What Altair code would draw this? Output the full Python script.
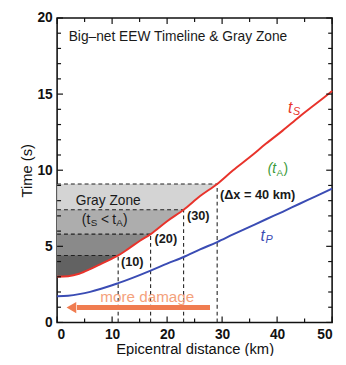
import altair as alt
import pandas as pd

# ---- data ----
dist = [0, 2, 4, 6, 8, 10, 11.1, 13, 15, 17, 20, 23, 26, 29.1, 32, 35, 38, 41, 44, 47, 50]
t_s = [3.0, 3.04, 3.2, 3.5, 3.85, 4.2, 4.4, 4.85, 5.35, 5.8, 6.65, 7.4, 8.3, 9.1,
       10.0, 10.85, 11.75, 12.6, 13.5, 14.35, 15.2]
t_p = [1.72, 1.76, 1.86, 2.01, 2.21, 2.44, 2.58, 2.83, 3.11, 3.4, 3.86, 4.3, 4.8, 5.28,
       5.78, 6.28, 6.78, 7.27, 7.78, 8.28, 8.79]

gray_levels = [9.1, 7.4, 5.8, 4.4]
gray_x = [29.1, 23.0, 17.0, 11.1]
gray_colors = ["#d4d4d4", "#adadad", "#8a8a8a", "#626262"]
mark_labels = ["(Δx = 40 km)", "(30)", "(20)", "(10)"]
mark_lab_x = [29.6, 23.6, 17.7, 11.6]
mark_lab_y = [8.35, 7.0, 5.47, 3.95]

x_ticks = [0, 10, 20, 30, 40, 50]
x_minor = [5, 15, 25, 35, 45]
y_ticks = [0, 5, 10, 15, 20]
y_minor = [1, 2, 3, 4, 6, 7, 8, 9, 11, 12, 13, 14, 16, 17, 18, 19]

arrow_from = 27.8
arrow_to = 3.6
arrow_tip = 2.6
arrow_y = 0.98

W, H = 280, 310
FONT = "Liberation Sans"

XS = alt.Scale(domain=[0, 50], nice=False)
YS = alt.Scale(domain=[0, 20], nice=False)
AX = alt.Axis(values=x_ticks, ticks=False, domain=False, grid=False, labelFont=FONT,
              labelFontSize=14, labelFontWeight="bold", labelColor="#111", labelPadding=5,
              title="Epicentral distance (km)", titleFont=FONT, titleFontSize=15,
              titleFontWeight="normal", titleColor="#111", titlePadding=1)
AY = alt.Axis(values=y_ticks, ticks=False, domain=False, grid=False, labelFont=FONT,
              labelFontSize=14, labelFontWeight="bold", labelColor="#111", labelPadding=5,
              title="Time (s)", titleFont=FONT, titleFontSize=15,
              titleFontWeight="normal", titleColor="#111", titlePadding=3)


def X(f):
    return alt.X(f, type="quantitative", scale=XS, axis=AX)


def Y(f):
    return alt.Y(f, type="quantitative", scale=YS, axis=AY)


curves = pd.DataFrame({"x": dist, "ts": t_s, "tp": t_p})

layers = []

# gray zone bands (lightest first, darker on top)
for lev, xl, col in zip(gray_levels, gray_x, gray_colors):
    sub = curves[curves["x"] <= xl + 1e-9].copy()
    sub["lev"] = lev
    layers.append(
        alt.Chart(sub).mark_area(color=col, opacity=1, interpolate="monotone")
        .encode(x=X("x"), y=Y("ts"), y2="lev")
    )

# dashed guide lines
guides = pd.DataFrame({"x": gray_x, "lev": gray_levels, "zero": [0] * len(gray_x)})
layers.append(
    alt.Chart(guides).mark_rule(color="#222", strokeDash=[4, 3], strokeWidth=1.1)
    .encode(x=X("zero"), x2="x", y=Y("lev"))
)
layers.append(
    alt.Chart(guides).mark_rule(color="#222", strokeDash=[4, 3], strokeWidth=1.1)
    .encode(x=X("x"), y=Y("zero"), y2="lev")
)

# curves
layers.append(
    alt.Chart(curves).mark_line(color="#e8332b", strokeWidth=2, interpolate="monotone")
    .encode(x=X("x"), y=Y("ts"))
)
layers.append(
    alt.Chart(curves).mark_line(color="#3a4cb4", strokeWidth=2, interpolate="monotone")
    .encode(x=X("x"), y=Y("tp"))
)

# distance labels
labs = pd.DataFrame({"x": mark_lab_x, "y": mark_lab_y, "t": mark_labels})
layers.append(
    alt.Chart(labs).mark_text(align="left", baseline="middle", font=FONT, fontSize=13,
                              fontWeight="bold", color="#1a1a1a")
    .encode(x=X("x"), y=Y("y"), text="t")
)

# arrow "more damage"
arr = pd.DataFrame({"x": [arrow_from], "x2": [arrow_to], "y": [arrow_y], "tip": [arrow_tip]})
layers.append(
    alt.Chart(arr).mark_rule(color="#f07c50", strokeWidth=5)
    .encode(x=X("x"), x2="x2", y=Y("y"))
)
layers.append(
    alt.Chart(arr).mark_point(shape="triangle-left", filled=True, color="#f07c50", opacity=1, size=130)
    .encode(x=X("tip"), y=Y("y"))
)
dmg = pd.DataFrame({"x": [16.4], "y": [1.67], "t": ["more damage"]})
layers.append(
    alt.Chart(dmg).mark_text(align="center", baseline="middle", font=FONT, fontSize=15.5,
                             color="#f4a27c")
    .encode(x=X("x"), y=Y("y"), text="t")
)

# title inside plot
ttl = pd.DataFrame({"x": [2.1], "y": [18.75], "t": ["Big–net EEW Timeline & Gray Zone"]})
layers.append(
    alt.Chart(ttl).mark_text(align="left", baseline="middle", font=FONT, fontSize=14,
                             color="#1a1a1a")
    .encode(x=X("x"), y=Y("y"), text="t")
)

# Gray Zone labels
gz = pd.DataFrame({"x": [9.3], "y": [8.0], "t": ["Gray Zone"]})
layers.append(
    alt.Chart(gz).mark_text(align="center", baseline="middle", font=FONT, fontSize=14,
                            color="#1a1a1a")
    .encode(x=X("x"), y=Y("y"), text="t")
)

# composed subscript texts
pieces = pd.DataFrame({
    "t":    ["(t", "S", "<", "t", "A", ")",
             "t", "S",
             "(t", "A", ")",
             "t", "P"],
    "x":    [4.5] * 6 + [42.0] * 2 + [38.3] * 3 + [37.0] * 2,
    "y":    [6.75] * 6 + [14.1] * 2 + [10.05] * 3 + [5.7] * 2,
    "dx":   [0, 9, 19.5, 31, 35, 42,
             0, 5,
             0, 9, 16,
             0, 5],
    "dy":   [0, 3, 0, 0, 3, 0,
             0, 4,
             0, 4, 0,
             0, 4],
    "size": [14, 10, 14, 14, 10, 14,
             16, 11,
             14, 10, 14,
             16, 11],
    "col":  ["#1a1a1a"] * 6 + ["#e8332b"] * 2 + ["#3a9a3a"] * 3 + ["#3a4cb4"] * 2,
    "sty":  ["normal"] * 6 + ["italic"] * 2 + ["italic", "normal", "normal"] + ["italic"] * 2,
})
for i in range(len(pieces)):
    row = pieces.iloc[[i]]
    layers.append(
        alt.Chart(row).mark_text(align="left", baseline="middle", font=FONT,
                                 fontSize=float(row["size"].iloc[0]),
                                 fontStyle=str(row["sty"].iloc[0]),
                                 color=str(row["col"].iloc[0]),
                                 dx=float(row["dx"].iloc[0]), dy=float(row["dy"].iloc[0]))
        .encode(x=X("x"), y=Y("y"), text="t")
    )

# inward ticks on all four sides
xt = pd.DataFrame({"x": x_ticks})
xm = pd.DataFrame({"x": x_minor})
yt = pd.DataFrame({"y": y_ticks})
ym = pd.DataFrame({"y": y_minor})
tick_col = "#111"
for df, ln in [(xt, 6), (xm, 4)]:
    layers.append(alt.Chart(df).mark_rule(color=tick_col, strokeWidth=1.2)
                  .encode(x=X("x"), y=alt.value(H), y2=alt.value(H - ln)))
    layers.append(alt.Chart(df).mark_rule(color=tick_col, strokeWidth=1.2)
                  .encode(x=X("x"), y=alt.value(0), y2=alt.value(ln)))
for df, ln in [(yt, 6), (ym, 4)]:
    layers.append(alt.Chart(df).mark_rule(color=tick_col, strokeWidth=1.2)
                  .encode(y=Y("y"), x=alt.value(0), x2=alt.value(ln)))
    layers.append(alt.Chart(df).mark_rule(color=tick_col, strokeWidth=1.2)
                  .encode(y=Y("y"), x=alt.value(W), x2=alt.value(W - ln)))

chart = alt.layer(*layers).properties(
    width=W, height=H,
    autosize=alt.AutoSizeParams(type="none"),
    padding={"left": 50, "top": 7, "right": 6, "bottom": 31},
    background="white",
).configure_view(stroke="#111", strokeWidth=1.6)

chart.save("out.html", embed_options={"renderer": "svg", "actions": False})
